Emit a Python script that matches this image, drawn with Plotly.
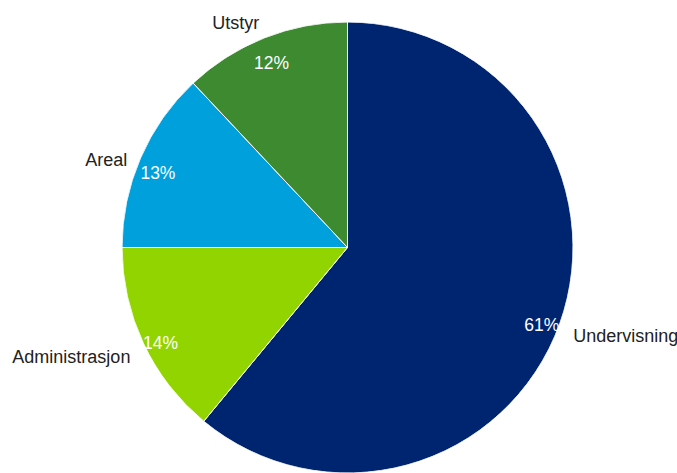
import numpy as np
import plotly.graph_objects as go

# Cost breakdown by category
categories = ["Undervisning", "Administrasjon", "Areal", "Utstyr"]
shares = [61, 14, 13, 12]
colors = ["#002570", "#92D400", "#00A0DC", "#3E8A30"]

W, H = 677, 473
TOP = 22
plot_h = H - TOP
cx_px = 347.5
radius_px = plot_h / 2
cy_px = TOP + radius_px

# Slice geometry in degrees, measured clockwise from 12 o'clock
vals = np.array(shares, dtype=float)
span = vals / vals.sum() * 360.0
mid = np.cumsum(span) - span / 2.0
mid_rad = np.radians(mid)

PCT_R = 0.916    # ring for the percentage labels (fraction of the radius)
NAME_R = 1.064   # ring for the category names, just outside the pie


def name_position(theta):
    horiz = "right" if np.sin(theta) > 0 else "left"
    vert = "middle" if np.cos(theta) > 0.8 else "bottom"
    return f"{vert} {horiz}"


font_family = "Liberation Sans, Arial, sans-serif"

fig = go.Figure()

# Pie slices as full-radius polar wedges
fig.add_trace(go.Barpolar(
    r=[1.0] * len(categories),
    theta=mid,
    width=span,
    base=0,
    marker=dict(color=colors, line=dict(color="white", width=1)),
    hoverinfo="skip",
    showlegend=False,
))

# Percentages just inside the rim
fig.add_trace(go.Scatterpolar(
    r=[PCT_R] * len(categories),
    theta=mid,
    mode="text",
    text=[f"{v}%" for v in shares],
    textposition="bottom center",
    textfont=dict(family=font_family, size=17.5, color="#FFFFFF"),
    hoverinfo="skip",
    showlegend=False,
))

# Category names outside the rim, on x/y axes whose unit is one pie radius
fig.add_trace(go.Scatter(
    x=NAME_R * np.sin(mid_rad),
    y=NAME_R * np.cos(mid_rad),
    mode="text",
    text=categories,
    textposition=[name_position(t) for t in mid_rad],
    textfont=dict(family=font_family, size=18, color="#222222"),
    cliponaxis=False,
    hoverinfo="skip",
    showlegend=False,
))

fig.update_layout(
    width=W,
    height=H,
    margin=dict(l=0, r=0, t=TOP, b=0, pad=0),
    paper_bgcolor="white",
    plot_bgcolor="rgba(0,0,0,0)",
    showlegend=False,
    xaxis=dict(visible=False, range=[-cx_px / radius_px, (W - cx_px) / radius_px], fixedrange=True),
    yaxis=dict(visible=False, range=[-(H - cy_px) / radius_px, (cy_px - TOP) / radius_px], fixedrange=True),
    polar=dict(
        domain=dict(x=[(cx_px - radius_px) / W, (cx_px + radius_px) / W], y=[0, 1]),
        bgcolor="rgba(0,0,0,0)",
        bargap=0,
        hole=0,
        radialaxis=dict(visible=False, range=[0, 1]),
        angularaxis=dict(visible=False, rotation=90, direction="clockwise"),
    ),
)

fig.write_html("out.html")
